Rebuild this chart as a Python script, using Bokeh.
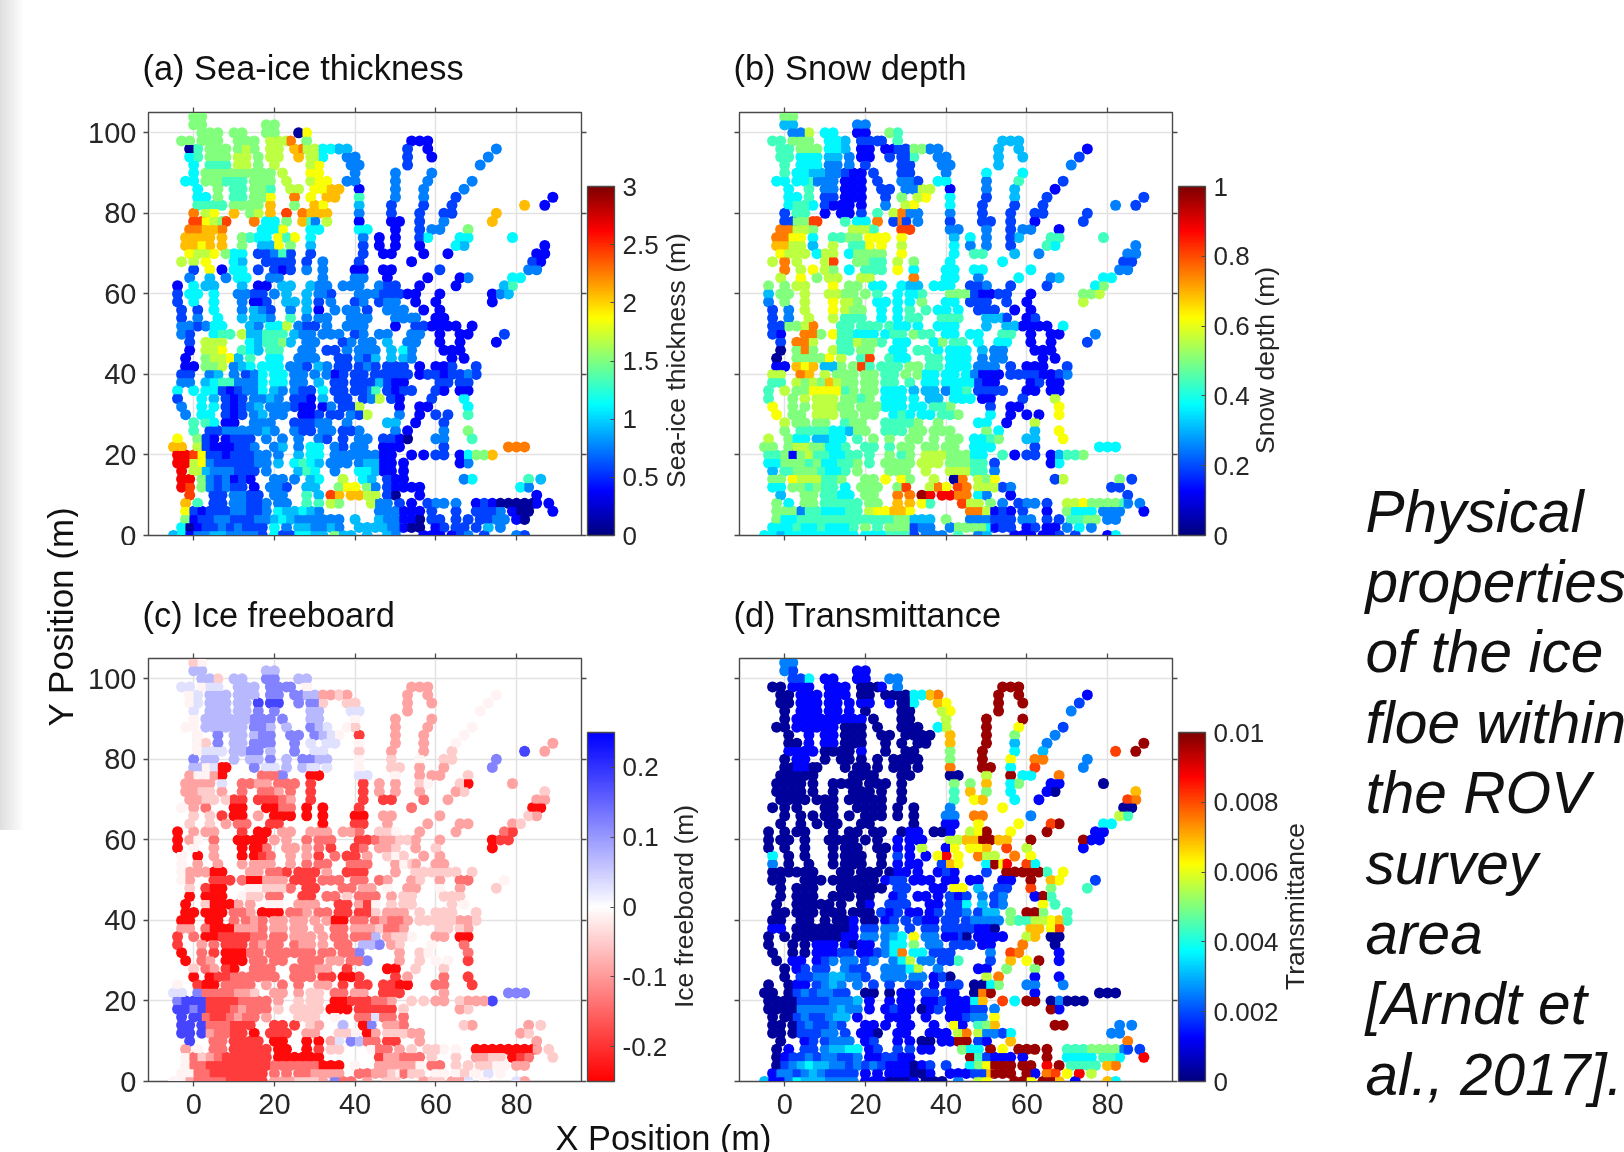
import math
import numpy as np
from bokeh.embed import file_html
from bokeh.resources import INLINE
from bokeh.layouts import row, column
from bokeh.models import (ColorBar, ColumnDataSource, FixedTicker, Label, LinearAxis,
                          LinearColorMapper)
from bokeh.plotting import figure

# --- values -----------------------------------------------------------------
# Each row is one Y position; runs are "first x:level level ..." with 2 m steps.
ROW_Y = list(range(104, -1, -2))

THICK = [
"0:77","0:77 18:77","2:77 6:7 10:77 18:77 26:09",
"-3:77 2:77 6:7 11:777 19:888 24:b 28:7 54:111",
"-1:06 4:777 11:787 19:88 25:ab 28:88 32:555 36:44 53:2 58:1 75:3",
"-1:56 4:777 11:88 16:7 19:88 26:a 29:88 32:5 38:33 53:2 59:1 73:3",
"0:5 4:666 11:88 16:7 20:8 29:89 39:33 53:2 71:3",
"0:5 3:7777 11:77 15:77 19:7 22:8 29:99 40:3 50:3 59:3",
"-2:55 3:777 8:666 15:777 23:8 29:899 38:33 50:3 58:3 69:3",
"1:5 6:7 10:66 15:77 19:6 24:88 30:99 34:aa 41:1 50:3 57:3 67:3",
"1:55 6:7 10:66 15:77 19:9 25:b 29:9 33:aa 41:6 50:3 57:3 65:2 89:1",
"1:6666 10:77 14:77 19:a 25:7 30:a9 41:4 49:2 57:2 64:2 82:a 87:1",
"0:b 3:89 10:a 14:78 19:a 23:c 27:baaa 41:3 49:2 56:2 62:22 75:a",
"0:cc 3:98 7:7 8:c 15:b 18:55 23:7 27:a6 30:3 33:8 41:1 49:11 56:2 62:3 74:a",
"-1:bbaa 7:b 17:555 22:9 29:55 41:55 50:1 56:2 59:33 68:7",
"-2:aaaa 7:a 12:76 16:55 21:969 29:5 42:3 46:1 50:1 56:25 66:55 79:5",
"-2:aa9a 7:a 12:7 17:44 21:9 24:7 29:4 42:2 46:1 50:1 56:1 65:54 87:1",
"-1:9 1:889 8:7 10:55 16:223 22:6 24:2 29:2 42:2 47:11 57:1 63:1 85:11",
"-3:8 0:8 3:9 10:54 18:22 22:22 28:2 32:3 41:2 54:1 84:21",
"0:2 4:9 7:1 10:55 16:2 20:212 28:3 32:3 40:11 47:11 61:2 83:33",
"-1:3 4:4 8:3 11:55 19:33 32:3 40:33 48:1 58:1 66:1 68:3 79:55",
"-4:1 0:5 3:44 12:4 16:11 22:44 29:433 37:33 41:3 46:322 56:1 65:1 77:46",
"-4:2 -1:55 5:5 11:33 15:22 20:3 23:4 28:4 31:33 34:2 41:333222 53:11 61:1 74:1 76:34",
"-4:2 0:5 5:5 12:3 15:11 18:2 23:44 28:4 31:2 34:3 40:2 42:3 46:23 50:3 55:1 60:1 74:1",
"-3:2 1:2 5:5 12:3 15:43 19:2 24:3 28:4 31:1 35:3 38:3 40:3 43:2 48:333 57:1 61:1",
"-3:2 1:3 6:5 12:4 15:443 24:6 28:3 31:33 39:333 50:333 55:3 60:11",
"-3:3323 5:55 14:43 19:55 23:8 26:322 33:3 38:333 50:1 55:22 59:1111 69:1",
"-3:3 -1:2 5:566 12:8 14:44 18:666 25:433 32:333 40:23 46:33 54:33 61:1 66:1 68:1 77:2",
"-1:2 3:888 14:54 18:667 24:4 28:33 37:23 42:33 48:4 53:33 61:1 66:1 75:1",
"-1:1 3:889 12:6 14:54 19:66 27:33 33:22 38:3 41:333 49:4 52:53 62:111",
"-2:1 3:7889 11:4 14:6 19:55 26:333 36:22 41:32 45:4 49:4 52:43 64:1 67:1",
"-2:11 3:778 10:34 14:5 17:555 24:332 31:43 36:22 41:23 45:2 48:222 56:1 60:112 70:2",
"-3:22 4:34 10:3 13:23 17:5 20:55 25:33 30:3 33:3 35:12 40:22 45:2 47:2222 56:12212 66:23 70:2",
"-3:33 3:4566 11:333 17:5 20:55 25:33 31:4 35:22 40:222 46:4 48:211 61:22 66:22",
"-4:5 0:5 3:55 7:2123 15:35 20:43 25:322 32:5 35:22 40:223 45:6 48:2122 60:21 66:11",
"-4:2 2:5 5:4 8:212 15:3 17:3 19:43 25:22 29:1 32:4 36:22 42:23 46:8 49:21 59:2 67:5",
"-3:3 2:5 5:5 8:212 14:34 19:333 25:211 32:13 37:22 41:8 51:1 56:11 68:5",
"-2:3 2:55 8:212 15:34 20:33 27:112 34:22 39:328 51:3 56:1 60:2 63:2 68:6",
"0:6 3:65 8:11 15:333 25:22233 38:3 48:44 55:1 62:2",
"0:6 4:223 10:3333 18:43 25:322 32:33 37:22 41:3 50:3 53:1 62:3 68:7",
"-4:9 1:7 3:21 8:1222 18:3 22:3 26:3 31:3 33:2 37:2 41:33 47:221 53:0 60:33 69:6",
"-5:aa 1:8 3:2111 11:223 20:34 26:3 29:55 35:32 40:33 47:111 62:2 78:bbb",
"-4:ddc 2:9 4:2212 12:2233 21:3 26:4 29:55 35:333 41:333 47:11 54:1 57:1 60:22 66:1 68:5 70:77 74:a",
"-4:dd 0:89 4:322 10:22233 21:4 25:5654 34:333 41:344 47:11 52:1 66:1 68:3",
"-3:d 0:88 3:4333 11:222 18:3 26:465 35:3 41:554 47:11 52:1",
"-3:dd 2:7 4:323 10:121 20:33 25:3 29:45 37:8 42:54 48:21 52:1 67:3 69:5 83:6 86:4",
"-3:dc 2:7 4:323 10:22 15:1 19:332 28:44 36:799 43:73 48:211 54:11 81:53",
"-1:c 5:22 10:3322 20:33 28:6 31:4 34:c 36:a 39:aa 43:88 48:20 56:1 85:1",
"-2:a 1:6 5:22 10:33223 21:33 28:6 31:6 34:87 44:8 46:33 51:2 54:1 58:2 60:33 65:3 70:121 76:0000 84:0 85:1 88:1",
"-2:9 0:212 6:2233223 21:54 25:4543 46:333 52:111 59:2 65:2 70:2223 79:100 89:1",
"-2:7 0:1223322233 20:454333 32:333 40:4 46:433 52:110 59:22 65:2 68:2 71:2233 80:10",
"-3:50 1:122323222 20:5 23:3 26:443 32:343 41:44443 51:3 52:100 60:12 65:22 70:2 73:4 76:3",
"-5:45 -1:1 1:334433332 20:5 22:22 26:554 32:4 35:7 37:44 43:4 48:43 57:111 64:12 68:3 72:2 80:32",
]

SNOW = [
"77","44 33","33 8 55 11 76","66 77 7 554 222 2 6 444","66 777 554 11 11 22 777 33 4 4 1",
"66 555 44 3 11 2 22 6 33 4 4 2","6 555 33 3 2 22 33 4 3","6 5544 33 21 1 2 22 3 5 5",
"55 556 333 111 2 332 5 3 6 2","5 6 33 11 1 22 33 88 1 3 4 1","55 6 22 11 1 2 7 89 5 2 4 2 2",
"5665 21 11 1 3 89 5 2 2 2 3 2","2 66 1 11 2 6 8b33 3 2 2 22 2","22 77 c c 6 55 b 2b 2 3 2 22 2 1 2",
"bb88 7 888 6 c 33 33 2 3 12 5","bb99 5 66 77 999 9 4 5 3 24 66 6","aa88 4 8 66 9 9 8 5 3 3 2 65 3",
"9 888 5 88 577 7 7 9 5 66 4 3 3","8 b 8 8c 77 66 8 7 5 5 2 22","b 8 9 87 5 666 9 5 5 5 5 33",
"8 9 7 88 88 b 5 3 5 3 4 55","7 7 88 9 77 55 544 55 5 223 2 2 57","4 77 8 88 77 7 6 5 55 6 777211 22 1 7 78",
"3 7 8 9 88 7 55 5 5 7 5 5 22 2 2 1 8","2 3 8 9 87 7 5 5 6 6 5 5 5 222 1 1","2 3 8 8 666 5 5 66 666 444 2 12",
"2277 8b 66 66 6 655 5 555 4 44 1111 5","2 1 bb7 9 66 555 566 766 55 55 66 1 1 1 3",
"2 bb8 66 877 6 55 57 66 5 55 1 1 2","0 7b7 8 66 77 55 66 5 555 4 33 111","0 7777 9 8 6c 655 66 55 5 3 33 1 1",
"11 a9a 44 7 7c6 666 77 66 55 5 333 2 111 2","88 ba 8 77 7 77 66 7 7 55 55 5 3111 22221 12 3",
"66 8787 a87 7 77 66 6 55 555 5 211 12 11","6 8 77 9999 67 77 555 4 44 355 6 2222 11 11",
"6 7 8 888 7 7 67 55 5 5 44 55 5 11 2 8","9 7 7 888 77 777 555 55 66 7 2 11 9",
"9 77 888 77 77 565 55 667 5 1 1 1 9","8 77 77 677 66667 7 5 1 8","7 666 6554 77 666 77 77 7 7 5 4 9",
"8 7 55 4455 6 7 7 7 7 7 77 556 7 4 9","77 7 8877 556 66 6 7 77 77 555 2 555",
"667 1 7866 5566 6 7 67 888 777 55 6 1 22 1 4 66 7","55 77 767 55667 6 7777 888 777 66 2 1 5",
"4 66 7776 556 7 777 8 888 66 3","77 9 888 667 77 9 97 8 0b 87 9 2 8 7 2","55 7 767 66 5 777 7c 8b9 cb 88 23 22",
"4 77 6655 77 b b e d dd bb 53 1 2","7 5 77 66666 77 a a 96 c 88 7 3 2 33 2 889 7777 6 3 3",
"7 773 6655566 89 9aa9 bb8 121 2 1 7555 333 1","7 5566666666 666677 444 7 333 222 33 2 2 6677 33",
"55 565565556 7 6 777 233 37777 5 122 12 11 3 5 3","55 4 555555555 5 55 666 2 3 33 6 34 111 11 2 2 15",
]

FREEBOARD = [
"45","77 77","77 4 77 88 77","66 56 6 777 888 8 5 333","56 777 777 88 88 77 333 43 3 3 5",
"56 777 77 9 99 8 88 4 44 3 3 5","6 777 77 8 8 77 66 3 5","5 7777 77 88 8 8 77 5 3 3",
"55 777 777 887 7 876 54 3 3 5","5 8 77 78 8 88 87 65 1 3 3 5","54 8 77 88 8 8 6 66 5 3 3 5 3",
"5666 77 88 7 8 66 4 3 3 4 9 3","8 77 7 77 8 7 8877 5 4 5 44 8","77 56 0 0 8 66 7 76 6 6 5 44 3 3 8",
"3553 0 222 8 0 66 55 3 3 45 8","3333 6 22 33 222 1 1 3 3 45 40 3","3344 3 2 22 3 2 1 1 3 3 3 34 4",
"3 344 4 11 111 2 3 1 1 11 2 3 3","5 3 2 00 00 22 0 0 1 2 0 33","4 4 1 00 3 000 0 0 0 3 3 43",
"4 4 3 22 11 0 1 3 3 3 3 34","0 3 33 1 00 33 333 33 2 445 3 3 21","0 35 2 00 00 3 3 2 22 2 112334 43 3 0 11",
"0 5 3 0 00 2 33 3 2 1 1 2 33 4 3 4 0","5 0 3 0 01 2 3 3 1 2 1 1 3 454 3 3","5 3 3 3 333 3 2 22 222 354 3 33",
"5333 00 33 22 1 111 3 111 3 44 4444 4","5 3 111 2 00 333 111 222 22 23 34 3 2 2 5",
"4 100 55 444 2 11 22 33 5 33 5 3 4","0 000 5 44 22 11 22 4 222 3 44 444","0 4000 3 3 55 333 11 31 5 4 44 4 5",
"00 000 22 3 000 223 22 11 11 4 333 4 444 4","00 00 2 23 2 33 33 3 3 00 22 2 3223 44444 33 4",
"33 2000 333 2 33 33 3 22 333 4 223 44 43","1 2 00 1111 22 22 333 3 22 222 7 3445 33 00",
"1 3 2 111 2 3 22 23 3 3 22 77 8 34 5 2","0 2 1 000 22 222 222 22 22 8 3 45 2",
"0 23 000 22 22 222 33 228 3 4 5 5 1","4 23 10 222 22233 1 00 4 4","0 011 2222 22 222 11 00 1 1 3 2 1",
"5 1 00 2222 3 2 2 3 3 1 11 110 0 2 1","66 8 2222 334 3 3 4 22 33 111 3 888",
"899 9 1111 2222 3 4 44 001 112 23 4 4 33 4 3 33 9","99 89 111 23222 4 4444 000 111 11 4 3 4",
"9 99 2112 322 3 444 5 226 22 2","99 9 222 111 11 1 43 7 08 33 2 4 3 3 4","99 9 322 11 0 111 33 445 03 44 33 34",
"9 22 1111 00 0 0 3 6 87 22 11 3 3","3 5 22 11111 00 0 1 44 5 22 3 4 4 45 5 000 0000 0 3 4",
"5 243 2111111 00 0000 133 222 4 4 3344 012 4","5 2211111111 222222 000 5 333 335 22 4 4 4455 33",
"55 221111111 2 2 223 333 22334 5 244 55 54 5 6 5","55 3 222211111 3 33 444 3 8 22 3 44 344 33 6 5 63",
]

TRANSMIT = [
"33","32 11","22 5 11 11 33","00 11 1 111 000 1 3 eee","00 111 111 00 00 00 555 ab e e 1",
"00 111 11 1 11 1 00 5 a9 e e 2","0 111 11 1 0 00 89 e 3","0 1111 11 11 1 0 00 8 e e",
"00 111 111 000 0 000 58 e 9 2","0 1 11 00 0 00 00 00 a e 7 3","00 1 11 00 0 0 0 00 a e 4 3 e",
"1111 00 00 1 0 00 7 e 5 4 c e","0 11 0 00 0 0 0000 7 e 9 bb 3","00 11 0 0 0 00 0 00 0 0 b ee 5 c 3",
"0000 0 000 0 0 00 85 e 5 bb 3","0000 0 00 00 000 0 7 7 a 57 11 0","0000 0 0 00 0 0 0 6 a 7 5 10 a",
"0 000 0 00 000 0 0 0 6 9a 5 1 cb","0 0 0 00 00 00 0 0 3 9 0 9b","0 0 0 00 0 000 0 0 3 b 3 86",
"0 0 0 00 00 0 1 9 9 c e 55","0 0 00 0 00 00 011 00 1 89e 9 e 11","0 00 0 00 00 0 0 1 11 1 88aae a e e 1 11",
"0 0 0 0 00 0 00 1 1 8 1 9 99 a c 8 1","5 0 0 0 00 0 0 2 1 1 9 d 9 b88 b 9","3 0 0 0 000 0 1 11 2a9 5e9 d c5",
"0000 00 00 00 0 011 1 121 2 ee eee6 9","0 0 000 0 00 000 122 111 11 11 11 e a 9 2",
"0 000 00 000 0 22 11 99 4 22 c 7 6","0 000 0 00 00 12 11 1 212 3 23 1e6","0 0000 0 0 01 222 11 22 5 4 23 9 6",
"00 000 00 0 000 212 11 12 22 3 244 7 ee7 6","00 00 0 00 1 00 12 2 2 11 22 2 3333 76688 9a 6",
"11 0000 000 1 22 33 2 22 222 2 110 aa 9c","0 0 00 0000 11 33 345 9 33 112 0 1111 8a 00",
"0 0 0 111 1 0 11 35 5 7 33 22 2 11 b 0","0 0 0 111 22 112 35b 55 22 2 3 cb 1",
"0 11 123 33 23 358 33 226 2 a 9 e 1","0 12 22 322 33358 3 1 7 7","0 223 3443 32 333 33 12 0 8 b 1 1",
"0 0 11 2343 3 2 2 2 2 1 22 005 7 3 3","00 0 2323 322 0 0 1 22 11 0be 1 000",
"000 0 2222 3334 1 1 11 112 111 5a c 5 ee 0 3 00 0","00 00 333 33433 1 1211 012 111 22 3 e 1",
"0 00 2322 344 1 111 1 112 33 9","00 0 232 232 11 1 11 1 91 67 a e e 3 3","00 0 222 33 2 110 11 111 8b 83 25 33",
"0 12 2333 12 1 1 0 0 11 ee 21 a b","0 1 22 34455 12 2 2 11 7 55 e 9 e ee e 666 7777 3 2 2",
"0 122 3233223 11 2211 e62 111 1 e 5555 665 d","0 2345443323 232111 012 2 579 eee ee d e 6666 ab",
"13 323432222 1 1 111 001 11122 a eee e1 bc 9 d 8","41 1 354443333 1 11 000 1 0 00 3 89 ee9 ee a 1 a5",
]

JET_LEVELS = dict(zip("0123456789abcde",
    [.03, .13, .19, .25, .31, .37, .44, .50, .56, .62, .69, .75, .81, .88, .97]))
FREE_LEVELS = dict(zip("0123456789",
    [-.24, -.19, -.14, -.09, -.05, -.01, .03, .07, .12, .18]))

TITLES = ["(a) Sea-ice thickness", "(b) Snow depth", "(c) Ice freeboard", "(d) Transmittance"]
CBAR_LABELS = ["Sea-ice thickness (m)", "Snow depth (m)", "Ice freeboard (m)", "Transmittance"]
CBAR_TICKS = [
    {0: "0", 0.5: "0.5", 1: "1", 1.5: "1.5", 2: "2", 2.5: "2.5", 3: "3"},
    {0: "0", 0.2: "0.2", 0.4: "0.4", 0.6: "0.6", 0.8: "0.8", 1: "1"},
    {-0.2: "-0.2", -0.1: "-0.1", 0: "0", 0.1: "0.1", 0.2: "0.2"},
    {0: "0", 0.002: "0.002", 0.004: "0.004", 0.006: "0.006", 0.008: "0.008", 0.01: "0.01"},
]
X_TICKS = [0, 20, 40, 60, 80]
Y_TICKS = [0, 20, 40, 60, 80, 100]
NOTE_LINES = ["Physical", "properties", "of the ice", "floe within", "the ROV", "survey", "area",
              "[Arndt et", "al., 2017]."]

FONT = "Liberation Sans"
INK = "#262626"
DARK = "#111111"
FRAME = "#4a4a4a"


def jet_palette(n=256):
    t = np.linspace(0, 1, n)
    ch = lambda c: np.clip(1.5 - np.abs(4 * t - c), 0, 1)
    r, g, b = ch(3), ch(2), ch(1)
    return ["#%02x%02x%02x" % (int(a * 255), int(d * 255), int(e * 255)) for a, d, e in zip(r, g, b)]


def bwr_palette(n=256):
    out = []
    for t in np.linspace(0, 1, n):
        if t < .5:
            k = int(255 * t * 2)
            out.append("#ff%02x%02x" % (k, k))
        else:
            k = int(255 * (1 - t) * 2)
            out.append("#%02x%02xff" % (k, k))
    return out


def cells(value_rows, lookup, scale):
    xs, ys, vs = [], [], []
    for y, pos, val in zip(ROW_Y, THICK, value_rows):
        vruns = val.split()
        for i, run in enumerate(pos.split()):
            start, lev = run.split(":")
            vr = vruns[i] if i < len(vruns) else vruns[-1]
            for k in range(len(lev)):
                c = vr[k] if k < len(vr) else vr[-1]
                xs.append(int(start) + 2 * k)
                ys.append(y)
                vs.append(lookup[c] * scale)
    return dict(x=xs, y=ys, v=vs)


def thick_values():
    return [" ".join(r.split(":")[1] for r in rw.split()) for rw in THICK]


def blank(w, h, cx, bottom):
    """Text-only figure; (cx, bottom) is where its frame's lower-left corner falls on the page."""
    p = figure(width=w, height=h, toolbar_location=None, output_backend="svg",
               x_range=(0, 1), y_range=(0, 1), min_border=0)
    p.axis.visible = False
    p.grid.visible = False
    p.outline_line_color = None
    p.background_fill_color = None
    p.border_fill_color = None
    return p, cx, bottom


def put(strip, text, fx, fy, size, angle=0, align="center", style="normal", color=INK):
    p, fl, fb = strip
    p.add_layout(Label(x=fx - fl, y=fb - fy, x_units="screen", y_units="screen", text=text,
                       text_font=FONT, text_font_size=f"{size}px", text_font_style=style,
                       text_color=color, text_align=align, text_baseline="middle", angle=angle))


def panel(idx, data, low, high, pal, w, h, bl, bt, xlab, ylab):
    p = figure(width=w, height=h, toolbar_location=None, output_backend="svg",
               x_range=(-11.2, 96.1), y_range=(0, 105.05),
               min_border_left=bl, min_border_right=w - bl - 433,
               min_border_top=bt, min_border_bottom=h - bt - 423)
    p.outline_line_color = FRAME
    p.outline_line_width = 1.4
    p.xgrid.ticker = FixedTicker(ticks=X_TICKS)
    p.ygrid.ticker = FixedTicker(ticks=Y_TICKS)
    p.grid.grid_line_color = "#e2e2e2"
    p.grid.grid_line_width = 1.5
    for ax, ticks, lab in ((p.xaxis[0], X_TICKS, xlab), (p.yaxis[0], Y_TICKS, ylab)):
        ax.ticker = FixedTicker(ticks=ticks)
        ax.axis_line_color = FRAME
        ax.major_tick_line_color = FRAME
        ax.major_tick_line_width = 1.3
        ax.major_tick_out = 5
        ax.major_tick_in = 0
        ax.minor_tick_line_color = None
        ax.major_label_text_font = FONT
        ax.major_label_text_color = INK
        ax.major_label_text_font_size = "29px"
        ax.major_label_standoff = 7 if lab else 0
        if not lab:
            ax.major_label_overrides = {t: "" for t in ticks}
    for where, ticks in (("above", X_TICKS), ("right", Y_TICKS)):
        a = LinearAxis(ticker=FixedTicker(ticks=ticks), major_label_overrides={t: "" for t in ticks},
                       major_label_standoff=0, major_tick_out=5, major_tick_in=0,
                       major_tick_line_color=FRAME, major_tick_line_width=1.3,
                       minor_tick_line_color=None, axis_line_color=FRAME)
        p.add_layout(a, where)
    mapper = LinearColorMapper(palette=pal, low=low, high=high)
    src = ColumnDataSource(data)
    fill = {"field": "v", "transform": mapper}
    p.scatter("x", "y", source=src, size=11, marker="circle", line_color=None, fill_color=fill)
    p.scatter("x", "y", source=src, size=8, marker="square", line_color=None, fill_color=fill)
    cb = ColorBar(color_mapper=mapper, width=27, height=349, location=(439, 0), padding=0, margin=0,
                  ticker=FixedTicker(ticks=list(CBAR_TICKS[idx])),
                  major_label_overrides=CBAR_TICKS[idx], major_label_text_font=FONT,
                  major_label_text_font_size="26px", major_label_text_color=INK, label_standoff=8,
                  major_tick_in=4, major_tick_out=0, major_tick_line_color=FRAME,
                  minor_tick_line_color=None, bar_line_color=FRAME, bar_line_width=1.3,
                  background_fill_color=None, border_line_color=None)
    p.add_layout(cb)
    return p


JET, BWR = jet_palette(), bwr_palette()

pa = panel(0, cells(thick_values(), JET_LEVELS, 3), 0, 3, JET, 584, 445, 70, 12, False, True)
pb = panel(1, cells(SNOW, JET_LEVELS, 1), 0, 1, JET, 533, 445, 19, 12, False, False)
pc = panel(2, cells(FREEBOARD, FREE_LEVELS, 1), -0.25, 0.25, BWR, 591, 477, 70, 13, True, True)
pd = panel(3, cells(TRANSMIT, JET_LEVELS, 0.01), 0, 0.01, JET, 559, 477, 19, 13, True, False)

# In a row Bokeh lines the frames up, so these frames end where the panels' frames end.
lab_a = blank(58, 445, 662, 535)
put(lab_a, CBAR_LABELS[0], 675, 360, 26.5, angle=math.pi / 2)
lab_b = blank(57, 445, 1253, 535)
put(lab_b, CBAR_LABELS[1], 1264, 360, 26.5, angle=math.pi / 2)
lab_c = blank(51, 477, 669, 1081)
put(lab_c, CBAR_LABELS[2], 683, 906, 26.5, angle=math.pi / 2)
lab_d = blank(31, 477, 1279, 1081)
put(lab_d, CBAR_LABELS[3], 1294, 906, 26.5, angle=math.pi / 2)

top1 = blank(1232, 100, 78, 100)
put(top1, TITLES[0], 142, 67, 34.4, align="left", color=DARK)
put(top1, TITLES[1], 733, 67, 34.4, align="left", color=DARK)
top2 = blank(1232, 100, 78, 645)
put(top2, TITLES[2], 142, 614, 34.4, align="left", color=DARK)
put(top2, TITLES[3], 733, 614, 34.4, align="left", color=DARK)

left = blank(78, 1152, 0, 1152)
put(left, "Y Position (m)", 60, 616, 35, angle=math.pi / 2, color=DARK)

strip = blank(1232, 30, 78, 1152)
put(strip, "X Position (m)", 663, 1137, 34.4, color=DARK)

note = blank(314, 1152, 1310, 1152)
for i, line in enumerate(NOTE_LINES):
    put(note, line, 1365, 510.6 + i * 70.4, 58.6, align="left", style="italic", color=DARK)

centre = column(top1[0], row(pa, lab_a[0], pb, lab_b[0], spacing=0), top2[0],
                row(pc, lab_c[0], pd, lab_d[0], spacing=0), strip[0], spacing=0)
page = row(left[0], centre, note[0], spacing=0)

CSS = ("<style>html,body{overflow:hidden}"
       "body::before{content:'';position:fixed;left:0;top:0;width:24px;height:830px;z-index:-1;"
       "background:linear-gradient(to right,#dedede,#ffffff)}</style>")
html = file_html(page, INLINE).replace("</head>", CSS + "</head>")
open("out.html", "w").write(html)
